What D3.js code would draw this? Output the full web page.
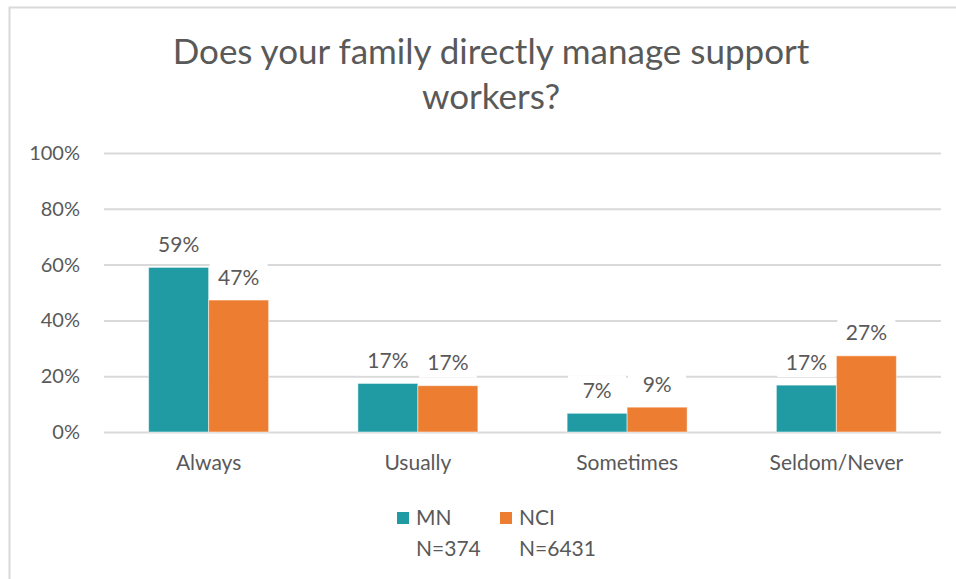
<!DOCTYPE html>
<html><head><meta charset="utf-8">
<script src="https://cdn.jsdelivr.net/npm/d3@7"></script>
<style>
body{margin:0;background:#fff;}
text{font-family:Lato, "Open Sans", sans-serif;fill:#595959;}
</style></head>
<body><svg id="c" width="956" height="579"></svg>
<script>
const categories = ["Always","Usually","Sometimes","Seldom/Never"];
const seriesNames = ["MN","NCI"];
const seriesN = ["N=374","N=6431"];
const mnValues = [0.59, 0.174, 0.067, 0.168];
const nciValues = [0.473, 0.166, 0.089, 0.273];
const tickValues = [0,0.2,0.4,0.6,0.8,1.0];
const colors = ["#209BA4","#ED7D31"];
const titleLines = ["Does your family directly manage support","workers?"];

const svg = d3.select("#c");
svg.append("path").attr("d","M9.5,579 L9.5,7.5 L956,7.5").attr("fill","none").attr("stroke","#d9d9d9").attr("stroke-width",2);

const y = d3.scaleLinear().domain([0,1]).range([432,153]);
const x0 = d3.scaleBand().domain(categories).range([104,941]);
const bw = x0.bandwidth();
const x1 = d3.scaleBand().domain(seriesNames).range([(bw-120)/2,(bw+120)/2]);

const yAxis = d3.axisLeft(y).tickValues(tickValues).tickFormat(d3.format(".0%")).tickSize(-(941-104)).tickPadding(24);
const ga = svg.append("g").attr("transform","translate(104,0)").call(yAxis);
ga.select(".domain").remove();
ga.selectAll(".tick line").attr("stroke","#d9d9d9").attr("stroke-width",2);
ga.selectAll(".tick text").attr("font-size",20).attr("fill","#595959").attr("font-family","Lato");

svg.append("text").attr("text-anchor","middle").attr("font-size",35)
  .selectAll("tspan").data(titleLines).join("tspan")
  .attr("x",491).attr("y",(d,i)=>64+i*45).text(d=>d);

const data = categories.map((c,i)=>({cat:c, vals:[mnValues[i], nciValues[i]]}));
const groups = svg.append("g").selectAll("g").data(data).join("g")
  .attr("transform",d=>`translate(${x0(d.cat)},0)`);
groups.selectAll("rect.bar").data(d=>d.vals.map((v,i)=>({v,s:seriesNames[i],i}))).join("rect")
  .attr("class","bar")
  .attr("x",d=>x1(d.s)).attr("width",x1.bandwidth())
  .attr("y",d=>y(d.v)).attr("height",d=>y(0)-y(d.v))
  .attr("fill",d=>colors[d.i]).attr("stroke","#ffffff").attr("stroke-opacity",0.5).attr("stroke-width",1);

const fmt = d3.format(".0%");
const lab = groups.selectAll("g.lab").data(d=>d.vals.map((v,i)=>({v,s:seriesNames[i],i}))).join("g").attr("class","lab")
  .attr("transform",d=>`translate(${x1(d.s)+x1.bandwidth()/2},${y(d.v)-23})`);
lab.append("rect").attr("x",-29).attr("y",-15).attr("width",58).attr("height",30).attr("fill","#fff");
lab.append("text").attr("text-anchor","middle").attr("dy","0.36em").attr("font-size",21).text(d=>fmt(d.v));

svg.append("g").selectAll("text").data(categories).join("text")
  .attr("x",d=>x0(d)+bw/2).attr("y",470).attr("text-anchor","middle").attr("font-size",21).text(d=>d);

const lg = svg.append("g").selectAll("g").data(seriesNames).join("g")
  .attr("transform",(d,i)=>`translate(${397+i*103},512)`);
lg.append("rect").attr("width",12).attr("height",12).attr("fill",(d,i)=>colors[i]);
lg.append("text").attr("x",19).attr("y",13).attr("font-size",21).text(d=>d);
lg.append("text").attr("x",19).attr("y",44).attr("font-size",21).text((d,i)=>seriesN[i]);
</script></body></html>
